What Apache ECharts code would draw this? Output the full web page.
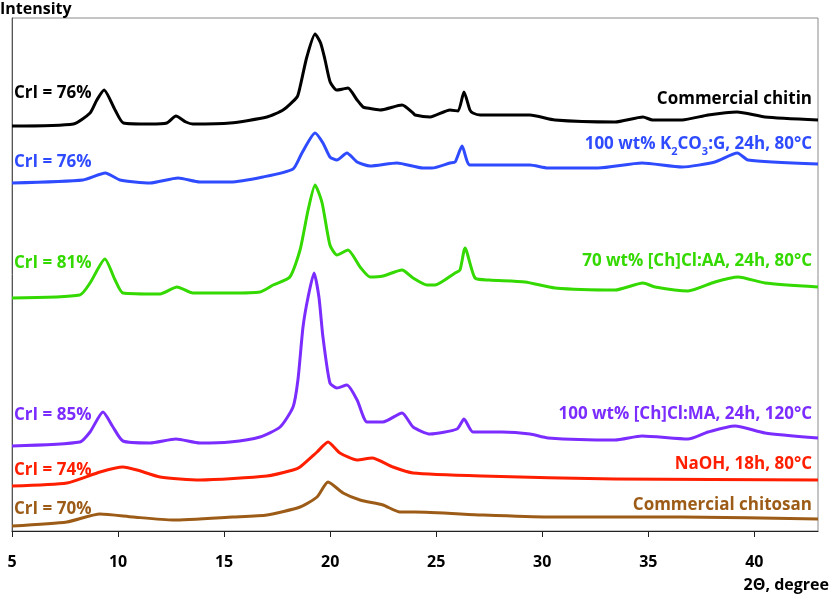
<!DOCTYPE html>
<html>
<head>
<meta charset="utf-8">
<script src="https://cdn.jsdelivr.net/npm/echarts@6/dist/echarts.min.js"></script>
<style>
html,body{margin:0;padding:0;background:#fff;}
#chart{width:830px;height:596px;}
</style>
</head>
<body>
<div id="chart"></div>
<script>
// 2θ positions (degree) and stacked intensities (a.u., offset for clarity)
const chitinX = [5.0,7.9,8.68,9.0,9.34,9.86,10.25,11.5,12.3,12.73,13.2,13.53,15.28,17.02,17.78,18.44,18.58,18.9,19.29,19.55,19.76,20.0,20.3,20.6,20.84,21.27,21.55,21.74,22.35,23.39,23.91,24.0,24.71,25.65,26.03,26.31,26.59,26.73,27.07,28.72,29.42,30.6,33.43,34.75,35.2,36.59,37.82,39.18,40.5,43.0];
const chitinY = [405,407,418,431,441,421,408,407,408,415,409,407,408,414,421,434,444,474,497,488,471,449,441,442,443,431,424,423,421,426,418,416,414,421,420,439,421,418,416,416,416,411,409,414,411,411,416,419,414,411];

const k2co3X = [5.0,8.35,9.4,10.09,11.5,12.83,13.86,15.28,16.83,18.25,18.67,19.29,19.66,19.99,20.32,20.79,21.27,21.88,23.15,24.38,24.8,25.65,25.89,26.22,26.59,29.42,30.27,32.63,34.7,36.59,38.14,39.2,39.7,43.0];
const k2co3Y = [348,351,358,351,348,353,349,349,354,362,378,398,388,374,371,378,369,365,368,363,363,368,369,385,366,366,363,363,368,364,369,378,371,367];

const aaX = [5.0,8.2,8.68,9.38,9.86,10.23,11.98,12.78,13.53,15.28,16.69,17.31,18.1,18.58,18.96,19.29,19.62,19.99,20.32,20.84,21.41,21.88,22.49,23.39,23.91,24.57,24.94,25.89,26.12,26.36,26.83,27.5,29.19,30.6,33.43,34.75,35.32,36.87,38.14,39.23,40.5,43.0];
const aaY = [233,236,248,272,251,238,237,244,238,238,239,246,254,281,321,346,328,286,276,281,264,254,255,261,253,246,246,258,261,283,253,251,249,243,241,248,244,240,249,254,248,244];

const maX = [5.0,8.2,8.68,9.29,9.76,10.23,11.5,12.73,13.86,15.28,16.69,17.64,18.25,18.48,18.72,18.96,19.24,19.47,19.66,19.99,20.32,20.79,21.27,21.74,22.49,23.39,23.91,24.71,25.98,26.31,26.73,28.1,29.42,30.27,33.43,34.7,36.87,37.82,39.09,40.5,43.0];
const maY = [85,89,99,119,104,90,88,92,88,89,94,104,124,151,204,234,258,234,194,148,143,146,131,109,109,118,104,97,102,112,99,99,97,93,91,95,92,99,105,98,93];

const naohX = [5.0,7.59,9.15,10.23,10.89,11.98,13.86,17.02,18.25,18.58,19.38,19.9,20.46,21.27,21.97,22.96,23.91,27.16,33.43,43.0];
const naohY = [45,48,59,64,61,54,51,55,61,64,79,89,78,71,73,64,58,55,52,51];

const chitosanX = [5.0,7.59,9.15,10.7,12.59,15.42,17.02,18.58,19.38,19.9,20.61,21.41,22.49,23.29,24.0,27.16,30.27,36.59,43.0];
const chitosanY = [5,9,17,14,11,14,16,24,34,49,38,31,26,19,19,16,14,14,12];

const seriesNames = ['Commercial chitin','100 wt% K2CO3:G, 24h, 80°C','70 wt% [Ch]Cl:AA, 24h, 80°C','100 wt% [Ch]Cl:MA, 24h, 120°C','NaOH, 18h, 80°C','Commercial chitosan'];
const crystallinity = ['CrI = 76%','CrI = 76%','CrI = 81%','CrI = 85%','CrI = 74%','CrI = 70%'];
const xTicks = [5,10,15,20,25,30,35,40];

const colors = ['#000000','#2f4bff','#33d900','#7b2cff','#ff1f00','#9c5c17'];
const xs = [chitinX,k2co3X,aaX,maX,naohX,chitosanX];
const ys = [chitinY,k2co3Y,aaY,maY,naohY,chitosanY];

const chart = echarts.init(document.getElementById('chart'), null, {renderer:'canvas'});
const FONT = '"Open Sans"';

const series = xs.map((xArr,i)=>({
  name: seriesNames[i],
  type:'line',
  data: xArr.map((x,j)=>[x, ys[i][j]]),
  showSymbol:false,
  smooth:0.2,
  lineStyle:{color:colors[i], width:3, join:'round'},
  itemStyle:{color:colors[i]},
  silent:true,
  animation:false
}));

// label positions (pixels)
const leftY = [90,159,260,412,467,506];
const rightY = [98,143,260,413,463,504];
const graphics = [];
crystallinity.forEach((t,i)=>{
  graphics.push({type:'text', left:14, top:leftY[i]-5, style:{text:t, fill:colors[i], font:'bold 17px '+FONT}});
});
seriesNames.forEach((t,i)=>{
  if(i===1){
    graphics.push({type:'text', right:18, top:rightY[i]-7, style:{
      text:'{n|100 wt% K}{s|2}{n|CO}{s|3}{n|:G, 24h, 80°C}',
      rich:{n:{fill:colors[i], font:'bold 17px '+FONT, verticalAlign:'top', lineHeight:24},
            s:{fill:colors[i], font:'bold 11px '+FONT, verticalAlign:'top', padding:[10,0,0,0], lineHeight:24}}
    }});
  } else {
    graphics.push({type:'text', right:18, top:rightY[i]-7, style:{text:t, fill:colors[i], font:'bold 17px '+FONT}});
  }
});
graphics.push({type:'text', left:0, top:1, style:{text:'Intensity', fill:'#000', font:'bold 16px '+FONT}});
graphics.push({type:'text', right:1, top:577, style:{text:'2Θ, degree', fill:'#000', font:'bold 16px '+FONT}});

chart.setOption({
  animation:false,
  backgroundColor:'#fff',
  grid:{left:12, right:12, top:18, bottom:65, show:true, borderColor:'#8a8a8a', borderWidth:1, containLabel:false},
  xAxis:{
    type:'value', min:5, max:43, interval:5,
    axisLine:{show:true, onZero:false, lineStyle:{color:'#222', width:1.2}},
    axisTick:{show:true, inside:false, length:6, lineStyle:{color:'#222'}, customValues:xTicks},
    axisLabel:{show:true, customValues:xTicks, color:'#000', fontFamily:'Open Sans', fontWeight:'bold', fontSize:16, margin:23},
    splitLine:{show:false}
  },
  yAxis:{
    type:'value', min:0, max:513,
    axisLine:{show:true, lineStyle:{color:'#555'}},
    axisTick:{show:false}, axisLabel:{show:false}, splitLine:{show:false}
  },
  series: series,
  graphic: graphics
});
</script>
</body>
</html>
